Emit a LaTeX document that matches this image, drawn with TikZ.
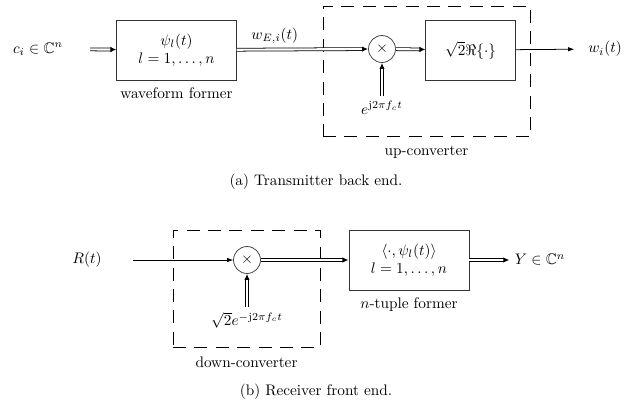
\documentclass[tikz,border=0pt]{standalone}
\usepackage{amssymb}
\usetikzlibrary{arrows.meta,positioning,decorations.markings}

\begin{document}
\begin{tikzpicture}[
      x=0.023cm,y=-0.023cm,
      blk/.style={draw=black!80,line width=0.6pt,minimum width=2.74cm,
                  minimum height=1.38cm,align=center},
      mixer/.style={circle,draw=black!75,line width=0.5pt,minimum size=0.62cm,inner sep=0pt},
      convbox/.style={draw,line width=0.6pt,dash pattern=on 8.5pt off 5.5pt},
      sig/.style={-{Latex[length=4pt]},line width=0.5pt},
      vec/.style={double,double distance=1.4pt,line width=0.5pt,shorten >=3pt,
                  postaction={decorate,decoration={markings,
                    mark=at position 1 with {\arrow{Latex[length=4pt,width=3.6pt]}}}}},
    ]
    \useasboundingbox (0,0) rectangle (635,405);

    % (a) transmitter back end
    \node (ci) at (38,49) {$c_i\in\mathbb{C}^n$};
    \node[blk] (wf) at (176.5,50) {$\psi_l(t)$\\$l=1,\dots,n$};
    \node[below=1pt of wf] (wflab) {waveform former};
    \node[mixer] (mulA) at (382,49) {$\times$};
    \node[blk,minimum width=2.05cm] (re) at (470.5,50) {$\sqrt{2}\Re\{\cdot\}$};
    \node (wi) at (605,49) {$w_i(t)$};
    \node (expA) at (382,108) {$e^{\mathrm{j}2\pi f_c t}$};
    \node[convbox,minimum width=4.76cm,minimum height=3.01cm] (upc) at (426.5,71.5) {};
    \node[below=2pt of upc] (upclab) {up-converter};
    \node (capA) at (316,182) {(a) Transmitter back end.};

    \draw[vec,shorten <=0.5cm] (ci) -- (wf);
    \draw[vec] (wf) -- node[pos=0.29,above] {$w_{E,i}(t)$} (mulA);
    \draw[vec] (mulA) -- (re);
    \draw[sig,shorten >=0.2cm] (re) -- (wi);
    \draw[vec] (expA) -- (mulA);

    % (b) receiver front end
    \node (rt) at (87,260) {$R(t)$};
    \node[mixer] (mulB) at (247,260) {$\times$};
    \node (expB) at (247,320) {$\sqrt{2}e^{-\mathrm{j}2\pi f_c t}$};
    \node[convbox,minimum width=3.38cm,minimum height=2.71cm] (dnc) at (246.5,289) {};
    \node[below=2pt of dnc] (dnclab) {down-converter};
    \node[blk,minimum width=2.76cm] (ntf) at (409,260) {$\langle\cdot,\psi_l(t)\rangle$\\$l=1,\dots,n$};
    \node[below=1pt of ntf] (ntflab) {$n$-tuple former};
    \node (yv) at (540,260) {$Y\in\mathbb{C}^n$};
    \node (capB) at (316,392) {(b) Receiver front end.};

    \draw[sig,shorten <=0.6cm] (rt) -- (mulB);
    \draw[vec] (mulB) -- (ntf);
    \draw[vec] (ntf) -- (yv);
    \draw[vec] (expB) -- (mulB);
  \end{tikzpicture}
\end{document}
